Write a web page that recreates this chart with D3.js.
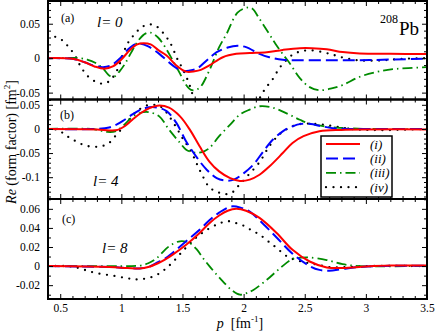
<!DOCTYPE html>
<html>
<head>
<meta charset="utf-8">
<script src="https://cdn.jsdelivr.net/npm/d3@7"></script>
<style>
  html, body { margin: 0; padding: 0; background: #fff; }
  svg { display: block; font-family: "Liberation Serif", "Times New Roman", serif; }
</style>
</head>
<body>
<svg id="chart" width="436" height="333"></svg>
<script>
// x axis
const xTicks = [0.5, 1, 1.5, 2, 2.5, 3, 3.5];
const xDomain = [0.4, 3.5];

// y tick labels per panel
const yTicksA = [-0.05, 0, 0.05];
const yTicksB = [-0.1, -0.05, 0, 0.05];
const yTicksC = [-0.02, 0, 0.02, 0.04, 0.06];

const seriesNames = ['(i)', '(ii)', '(iii)', '(iv)'];

// panel (a) l = 0, pairs of [p, Re]
const redA = [[0.4,0],[0.6,-0.001],[0.7,-0.006],[0.78,-0.012],[0.86,-0.0153],[0.93,-0.012],[1.0,-0.002],[1.07,0.012],[1.13,0.02],[1.18,0.0218],[1.24,0.02],[1.3,0.012],[1.37,0.004],[1.45,-0.0105],[1.53,-0.0195],[1.6,-0.019],[1.65,-0.017],[1.72,-0.0105],[1.83,0.0014],[1.94,0.0063],[2.05,0.0075],[2.19,0.0087],[2.32,0.012],[2.46,0.0145],[2.56,0.0145],[2.68,0.013],[2.81,0.0088],[2.95,0.0068],[3.2,0.0063],[3.5,0.006]];
const blueA = [[0.4,0],[0.6,-0.001],[0.7,-0.006],[0.78,-0.011],[0.85,-0.013],[0.92,-0.01],[0.99,0.0],[1.05,0.012],[1.11,0.02],[1.16,0.021],[1.22,0.017],[1.31,0.0063],[1.42,-0.0105],[1.5,-0.0185],[1.56,-0.018],[1.62,-0.015],[1.7,-0.003],[1.78,0.0087],[1.87,0.0155],[1.95,0.018],[2.02,0.016],[2.13,0.0063],[2.21,0.0014],[2.32,-0.0023],[2.45,-0.003],[2.7,-0.003],[2.95,-0.003],[3.2,-0.002],[3.5,-0.0005]];
const greenA = [[0.4,0],[0.55,0],[0.63,0.0005],[0.72,-0.002],[0.79,-0.007],[0.85,-0.015],[0.9,-0.025],[0.94,-0.027],[0.99,-0.018],[1.03,-0.008],[1.08,0.008],[1.14,0.026],[1.2,0.036],[1.24,0.037],[1.3,0.03],[1.34,0.021],[1.42,-0.003],[1.48,-0.0225],[1.53,-0.039],[1.57,-0.046],[1.61,-0.046],[1.65,-0.041],[1.72,-0.0177],[1.8,0.016],[1.86,0.035],[1.95,0.066],[2.03,0.0735],[2.07,0.072],[2.13,0.057],[2.21,0.035],[2.26,0.021],[2.32,0.006],[2.38,-0.008],[2.46,-0.029],[2.54,-0.042],[2.62,-0.0465],[2.72,-0.044],[2.81,-0.039],[2.95,-0.027],[3.09,-0.02],[3.22,-0.016],[3.5,-0.013]];
const blackA = [[0.4,0.034],[0.5,0.028],[0.56,0.018],[0.62,0.004],[0.67,-0.013],[0.73,-0.027],[0.8,-0.035],[0.86,-0.037],[0.91,-0.032],[0.97,-0.016],[1.01,0.004],[1.05,0.021],[1.1,0.033],[1.16,0.044],[1.22,0.049],[1.28,0.047],[1.34,0.037],[1.4,0.022],[1.46,-0.002],[1.5,-0.015],[1.55,-0.035],[1.6,-0.06],[1.7,-0.085],[1.85,-0.1],[2.0,-0.09],[2.1,-0.068],[2.16,-0.049],[2.2,-0.039],[2.24,-0.03],[2.28,-0.018],[2.31,-0.0105],[2.35,-0.003],[2.4,0.005],[2.46,0.0095],[2.54,0.0115],[2.65,0.0086],[2.73,0.005],[2.81,0.001],[2.93,-0.003],[3.1,-0.0035],[3.3,-0.001],[3.5,0]];

// panel (b) l = 4
const redB = [[0.4,0],[0.8,-0.001],[0.9,-0.003],[0.97,-0.002],[1.03,0.006],[1.09,0.019],[1.16,0.033],[1.23,0.043],[1.31,0.0485],[1.39,0.044],[1.48,0.026],[1.56,-0.0015],[1.64,-0.036],[1.72,-0.0675],[1.8,-0.088],[1.89,-0.102],[1.97,-0.1077],[2.05,-0.105],[2.13,-0.095],[2.21,-0.078],[2.32,-0.05],[2.4,-0.029],[2.49,-0.015],[2.62,-0.005],[2.8,-0.002],[3.5,-0.001]];
const blueB = [[0.4,0],[0.8,0],[0.9,0.003],[0.96,0.009],[1.02,0.018],[1.09,0.03],[1.16,0.04],[1.23,0.045],[1.3,0.044],[1.37,0.037],[1.45,0.0125],[1.53,-0.026],[1.62,-0.06],[1.7,-0.085],[1.78,-0.102],[1.85,-0.107],[1.92,-0.105],[2.0,-0.092],[2.08,-0.074],[2.16,-0.047],[2.24,-0.022],[2.32,-0.005],[2.4,0.0054],[2.47,0.0105],[2.55,0.01],[2.62,0.0065],[2.75,0.001],[3.0,0],[3.5,0]];
const greenB = [[0.4,0],[0.75,0],[0.82,-0.003],[0.88,-0.006],[0.95,-0.005],[1.02,0.008],[1.09,0.025],[1.15,0.033],[1.22,0.035],[1.31,0.026],[1.39,-0.0015],[1.48,-0.029],[1.53,-0.043],[1.6,-0.049],[1.66,-0.048],[1.72,-0.0396],[1.8,-0.015],[1.89,0.009],[1.97,0.03],[2.05,0.04],[2.13,0.047],[2.24,0.044],[2.37,0.03],[2.46,0.019],[2.54,0.011],[2.7,0.004],[2.81,0.002],[3.0,0],[3.5,0]];
const blackB = [[0.4,0],[0.48,-0.002],[0.53,-0.01],[0.58,-0.019],[0.64,-0.027],[0.7,-0.034],[0.78,-0.037],[0.85,-0.035],[0.9,-0.029],[0.95,-0.015],[1.01,0.002],[1.06,0.018],[1.12,0.035],[1.2,0.048],[1.27,0.05],[1.31,0.048],[1.35,0.04],[1.4,0.023],[1.46,-0.0015],[1.5,-0.019],[1.57,-0.0466],[1.62,-0.074],[1.66,-0.095],[1.72,-0.121],[1.78,-0.13],[1.84,-0.135],[1.9,-0.133],[1.95,-0.12],[2.03,-0.098],[2.13,-0.069],[2.21,-0.036],[2.29,-0.012],[2.35,-0.001],[2.44,0.009],[2.52,0.011],[2.62,0.0095],[2.73,0.006],[2.87,0.0],[3.1,-0.0025],[3.5,0]];

// panel (c) l = 8
const redC = [[0.4,0],[0.9,-0.001],[1.05,-0.002],[1.15,-0.0025],[1.22,-0.001],[1.3,0.003],[1.36,0.007],[1.42,0.012],[1.53,0.0224],[1.64,0.0347],[1.72,0.045],[1.8,0.053],[1.87,0.058],[1.94,0.06],[2.02,0.058],[2.13,0.0505],[2.27,0.0347],[2.4,0.017],[2.54,0.0048],[2.68,-0.0014],[2.81,-0.002],[3.0,-0.0005],[3.2,0.0005],[3.5,0.0005]];
const blueC = [[0.4,0],[0.9,-0.001],[1.05,-0.002],[1.15,-0.0025],[1.22,-0.001],[1.3,0.004],[1.36,0.008],[1.42,0.014],[1.53,0.026],[1.64,0.038],[1.72,0.048],[1.8,0.056],[1.9,0.0625],[1.98,0.061],[2.05,0.057],[2.13,0.048],[2.27,0.03],[2.4,0.013],[2.54,0.0],[2.62,-0.004],[2.7,-0.0048],[2.81,-0.003],[2.95,-0.001],[3.2,0.0003],[3.5,0.0003]];
const greenC = [[0.4,0],[1.05,0],[1.15,0.0005],[1.22,0.003],[1.29,0.0084],[1.39,0.0207],[1.48,0.026],[1.56,0.024],[1.62,0.017],[1.67,0.008],[1.72,0.0],[1.78,-0.009],[1.83,-0.016],[1.9,-0.025],[1.97,-0.03],[2.03,-0.028],[2.08,-0.025],[2.19,-0.0144],[2.3,-0.002],[2.4,0.0074],[2.47,0.0088],[2.54,0.009],[2.68,0.0063],[2.81,0.002],[2.95,0.0],[3.5,0.0003]];
const blackC = [[0.4,0],[0.55,0],[0.62,-0.001],[0.7,-0.004],[0.8,-0.0075],[0.93,-0.01],[1.04,-0.0126],[1.12,-0.014],[1.19,-0.0133],[1.26,-0.011],[1.32,-0.007],[1.37,-0.002],[1.42,0.004],[1.5,0.0154],[1.61,0.0295],[1.7,0.038],[1.78,0.0435],[1.83,0.046],[1.88,0.047],[1.94,0.045],[2.01,0.0417],[2.07,0.037],[2.13,0.033],[2.2,0.026],[2.27,0.019],[2.35,0.0105],[2.4,0.0075],[2.5,0.004],[2.6,0.0015],[2.7,-0.001],[2.85,-0.001],[3.0,0],[3.5,0]];

const styles = [
  { color: '#ff0000', width: 2, dash: null, cap: 'butt' },
  { color: '#0000ff', width: 2, dash: '12,5', cap: 'butt' },
  { color: '#008b00', width: 1.8, dash: '10,4,1.5,4', cap: 'butt' },
  { color: '#000000', width: 2.3, dash: '0,7.5', cap: 'round' }
];

const left = 48, right = 427;
const panels = [
  { key: 'a', top: 1, bottom: 99.5, domain: [-0.06, 0.083], ticks: yTicksA, minor: [-6, 8], series: [redA, blueA, greenA, blackA], tag: '(a)', ell: 'l= 0', tagPos: [61, 22], ellPos: [97, 27] },
  { key: 'b', top: 99.5, bottom: 199, domain: [-0.1452, 0.061], ticks: yTicksB, minor: [-14, 6], series: [redB, blueB, greenB, blackB], tag: '(b)', ell: 'l= 4', tagPos: [60, 119], ellPos: [93, 186] },
  { key: 'c', top: 199, bottom: 299, domain: [-0.0345, 0.0703], ticks: yTicksC, minor: [-3, 7], series: [redC, blueC, greenC, blackC], tag: '(c)', ell: 'l= 8', tagPos: [62, 223], ellPos: [102, 253] }
];

const svg = d3.select('#chart');
svg.append('rect').attr('width', 436).attr('height', 333).attr('fill', '#fff');

const x = d3.scaleLinear().domain(xDomain).range([left, right]);
const xMinor = d3.range(4, 36).map(k => k / 10).filter(v => xTicks.indexOf(v) < 0);

panels.forEach((P, idx) => {
  const y = d3.scaleLinear().domain(P.domain).range([P.bottom, P.top]);
  const g = svg.append('g');

  svg.append('clipPath').attr('id', 'clip-' + P.key)
    .append('rect').attr('x', left).attr('y', P.top).attr('width', right - left).attr('height', P.bottom - P.top);

  const line = d3.line()
    .x(d => x(d[0]))
    .y(d => y(d[1]))
    .curve(d3.curveCatmullRom.alpha(0.5));

  const curves = g.append('g').attr('clip-path', `url(#clip-${P.key})`);
  // draw black first, red on top
  [3, 2, 1, 0].forEach(i => {
    const s = styles[i];
    curves.append('path')
      .datum(P.series[i])
      .attr('d', line)
      .attr('fill', 'none')
      .attr('stroke', s.color)
      .attr('stroke-width', s.width)
      .attr('stroke-linecap', s.cap)
      .attr('stroke-dasharray', s.dash);
  });

  const yMinor = d3.range(P.minor[0], P.minor[1] + 1).map(k => k / 100)
    .filter(v => v >= P.domain[0] && v <= P.domain[1] && P.ticks.indexOf(v) < 0);

  const addAxis = (axis, tx, ty) => {
    const a = g.append('g').attr('transform', `translate(${tx},${ty})`).call(axis);
    a.select('.domain').remove();
    a.selectAll('.tick line').attr('stroke', '#000').attr('stroke-width', 1);
    return a;
  };

  // left (with labels)
  const yl = addAxis(d3.axisLeft(y).tickValues(P.ticks).tickSize(-5).tickPadding(8).tickFormat(d => String(d)), left, 0);
  yl.selectAll('text').attr('font-size', 11.5).attr('font-family', '"Liberation Serif", serif').attr('fill', '#000');
  addAxis(d3.axisLeft(y).tickValues(yMinor).tickSize(-3).tickFormat(''), left, 0);
  addAxis(d3.axisRight(y).tickValues(P.ticks).tickSize(-5).tickFormat(''), right, 0);
  addAxis(d3.axisRight(y).tickValues(yMinor).tickSize(-3).tickFormat(''), right, 0);

  // top & bottom
  addAxis(d3.axisTop(x).tickValues(xTicks).tickSize(-5).tickFormat(''), 0, P.top);
  addAxis(d3.axisTop(x).tickValues(xMinor).tickSize(-3).tickFormat(''), 0, P.top);
  const xb = addAxis(d3.axisBottom(x).tickValues(xTicks).tickSize(-5).tickPadding(5)
    .tickFormat(idx === panels.length - 1 ? (d => String(d)) : ''), 0, P.bottom);
  xb.selectAll('text').attr('font-size', 11.5).attr('font-family', '"Liberation Serif", serif').attr('fill', '#000');
  addAxis(d3.axisBottom(x).tickValues(xMinor).tickSize(-3).tickFormat(''), 0, P.bottom);

  g.append('rect')
    .attr('x', left).attr('y', P.top)
    .attr('width', right - left).attr('height', P.bottom - P.top)
    .attr('fill', 'none').attr('stroke', '#000').attr('stroke-width', 2);

  g.append('text').attr('x', P.tagPos[0]).attr('y', P.tagPos[1])
    .attr('font-size', 12).text(P.tag);
  g.append('text').attr('x', P.ellPos[0]).attr('y', P.ellPos[1])
    .attr('font-size', 15).attr('font-style', 'italic').text(P.ell);
});

// nucleus label
svg.append('text').attr('x', 380).attr('y', 23).attr('font-size', 12).text('208');
svg.append('text').attr('x', 399).attr('y', 35).attr('font-size', 19).text('Pb');

// legend
const lg = svg.append('g');
lg.append('rect').attr('x', 321).attr('y', 136).attr('width', 71).attr('height', 61)
  .attr('fill', '#fff').attr('stroke', '#000').attr('stroke-width', 1.5);
seriesNames.forEach((name, i) => {
  const yy = 144 + i * 14.4;
  const s = styles[i];
  lg.append('line').attr('x1', 326).attr('x2', 360).attr('y1', yy).attr('y2', yy)
    .attr('stroke', s.color).attr('stroke-width', s.width)
    .attr('stroke-linecap', s.cap).attr('stroke-dasharray', s.dash);
  lg.append('text').attr('x', 370).attr('y', yy + 4.5)
    .attr('font-size', 13).attr('font-style', 'italic').text(name);
});

// axis titles
const yt = svg.append('text')
  .attr('transform', 'translate(16,142) rotate(-90)')
  .attr('text-anchor', 'middle').attr('font-size', 14);
yt.append('tspan').attr('font-style', 'italic').text('Re');
yt.append('tspan').text(' (form factor) [fm');
yt.append('tspan').attr('font-size', 9).attr('dy', -6).text('2');
yt.append('tspan').attr('dy', 6).text(']');

const xt = svg.append('text')
  .attr('x', 240).attr('y', 328)
  .attr('text-anchor', 'middle').attr('font-size', 14);
xt.append('tspan').attr('font-style', 'italic').text('p');
xt.append('tspan').text('\u00a0\u00a0[fm');
xt.append('tspan').attr('font-size', 9).attr('dy', -6).text('-1');
xt.append('tspan').attr('dy', 6).text(']');
</script>
</body>
</html>
